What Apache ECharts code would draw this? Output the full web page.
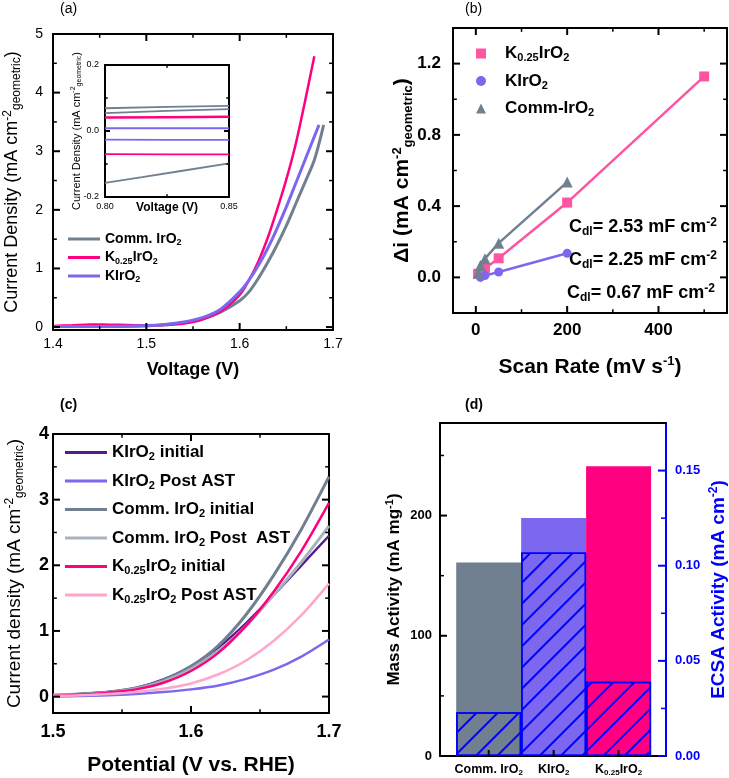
<!DOCTYPE html>
<html><head><meta charset="utf-8">
<script src="https://cdn.jsdelivr.net/npm/echarts@6/dist/echarts.min.js"></script>
<style>html,body{margin:0;padding:0;background:#fff}#c{width:729px;height:778px}</style>
</head><body><div id="c"></div>
<script>
// ---------- DATA ----------
// (a) polarization curves [V, mA cm-2]
const aCommIrO2 = [[1.40,0.01],[1.45,0.01],[1.50,0.02],[1.52,0.04],[1.54,0.07],[1.56,0.14],[1.58,0.26],[1.60,0.45],[1.61,0.6],[1.62,0.83],[1.63,1.1],[1.64,1.4],[1.65,1.73],[1.66,2.1],[1.67,2.47],[1.68,2.85],[1.69,3.45]];
const aK025IrO2 = [[1.40,0.02],[1.42,0.03],[1.44,0.045],[1.46,0.04],[1.48,0.035],[1.50,0.03],[1.52,0.035],[1.54,0.06],[1.56,0.13],[1.58,0.27],[1.60,0.55],[1.61,0.8],[1.62,1.12],[1.63,1.52],[1.64,2.0],[1.65,2.52],[1.66,3.12],[1.67,3.85],[1.68,4.62]];
const aKIrO2 = [[1.40,0.01],[1.45,0.01],[1.50,0.025],[1.52,0.045],[1.54,0.085],[1.56,0.16],[1.58,0.31],[1.60,0.6],[1.61,0.8],[1.62,1.05],[1.63,1.34],[1.64,1.68],[1.65,2.05],[1.66,2.45],[1.67,2.85],[1.68,3.25],[1.685,3.45]];
// (a) inset CV segments
const insetComm1 = [[0.80,0.069],[0.825,0.073],[0.85,0.076]];
const insetComm2 = [[0.80,0.054],[0.825,0.061],[0.85,0.066]];
const insetK025a = [[0.80,0.041],[0.825,0.042],[0.85,0.043]];
const insetKa = [[0.80,0.008],[0.825,0.008],[0.85,0.008]];
const insetKb = [[0.80,-0.026],[0.825,-0.027],[0.85,-0.027]];
const insetK025b = [[0.80,-0.07],[0.825,-0.071],[0.85,-0.071]];
const insetComm3 = [[0.80,-0.157],[0.815,-0.14],[0.83,-0.122],[0.85,-0.098]];
// (b) delta i vs scan rate
const bK025IrO2 = [[5,0.02],[20,0.05],[50,0.107],[200,0.42],[500,1.128]];
const bKIrO2 = [[10,0.0],[20,0.01],[50,0.03],[200,0.135]];
const bCommIrO2 = [[5,0.025],[10,0.067],[20,0.105],[50,0.192],[200,0.535]];
const bCdl = ['2.53','2.25','0.67'];
// (c) stability curves
const cPot = [1.50,1.52,1.54,1.56,1.58,1.60,1.62,1.64,1.66,1.68,1.70];
const cKIrO2Init = [0.02,0.04,0.07,0.13,0.26,0.46,0.75,1.12,1.55,2.0,2.45];
const cKIrO2Post = [0.0,0.01,0.02,0.04,0.07,0.11,0.17,0.27,0.41,0.61,0.87];
const cCommInit = [0.02,0.04,0.07,0.13,0.25,0.46,0.78,1.25,1.85,2.55,3.35];
const cCommPost = [0.02,0.03,0.06,0.12,0.23,0.42,0.7,1.08,1.55,2.05,2.6];
const cK025Init = [0.01,0.03,0.06,0.11,0.21,0.39,0.67,1.08,1.6,2.22,2.95];
const cK025Post = [0.01,0.02,0.04,0.07,0.12,0.2,0.34,0.55,0.85,1.24,1.72];
// (d) activities
const dCats = ['Comm. IrO2','KIrO2','K0.25IrO2'];
const dMass = [161,198,241];
const dEcsa = [0.023,0.107,0.039];
// tick values
const aXTicks = [1.4,1.5,1.6,1.7], aXMinor = [1.45,1.55,1.65];
const aYTicks = [0,1,2,3,4,5], aYMinor = [0.5,1.5,2.5,3.5,4.5];
const insXTicks = [0.80,0.85], insXMinor = [0.825];
const insYTicks = [-0.2,0,0.2], insYMinor = [-0.1,0.1];
const bXTicks = [0,200,400], bXMinor = [100,300,500];
const bYTicks = [0,0.4,0.8,1.2], bYMinor = [0.2,0.6,1.0];
const cXTicks = [1.5,1.6,1.7], cXMinor = [1.55,1.65];
const cYTicks = [0,1,2,3,4], cYMinor = [0.5,1.5,2.5,3.5];
const dXTicks = [1,2,3];
const dYLTicks = [0,100,200], dYLMinor = [50,150,250];
const dYRTicks = [0,0.05,0.10,0.15], dYRMinor = [0.025,0.075,0.125];

// ---------- STYLE ----------
const FF = "'Liberation Sans', Arial, sans-serif";
const GRAY = '#708090', PINK = '#FF0080', PURP = '#7B68EE', BLUE = '#0000FF';
function rich(fs, w, color) {
  const s = Math.round(fs * 0.64);
  return {
    n: {fontSize: fs, fontWeight: w, color, fontFamily: FF},
    s: {fontSize: s, fontWeight: w, color, fontFamily: FF, padding: [Math.round(fs * 0.55), 0, 0, 0]},
    p: {fontSize: s, fontWeight: w, color, fontFamily: FF, padding: [0, 0, Math.round(fs * 0.5), 0]}
  };
}
const xAxes = [], yAxes = [];
function axisSet(list, grid, min, max, o) {
  const color = o.color || '#000';
  const idx = list.length;
  list.push({type: 'value', gridIndex: grid, min, max, splitLine: {show: false}, position: o.pos,
    axisLine: {show: true, onZero: false, lineStyle: {color, width: 2}},
    axisTick: {show: false},
    axisLabel: o.label ? Object.assign({show: true, customValues: o.labels, color, fontFamily: FF}, o.label) : {show: false},
    name: o.name || '', nameLocation: 'middle', nameGap: o.nameGap || 0, nameTextStyle: o.nameStyle || {}, nameMoveOverlap: false
  });
  if (o.opp) list.push({type: 'value', gridIndex: grid, min, max, splitLine: {show: false}, position: o.opp,
    axisLine: {show: true, onZero: false, lineStyle: {color: '#000', width: 2}}, axisTick: {show: false}, axisLabel: {show: false}});
  return idx;
}
const grids = [
  {left: 53, top: 34, width: 280, height: 296},
  {left: 105, top: 65, width: 124, height: 132},
  {left: 453, top: 28, width: 274, height: 285},
  {left: 53, top: 434, width: 276, height: 279},
  {left: 440, top: 423, width: 226, height: 333}
].map(g => Object.assign({outerBoundsMode: 'none'}, g));

// (a)
const aX = axisSet(xAxes, 0, 1.4, 1.7, {pos: 'bottom', opp: 'top', labels: aXTicks,
  label: {fontSize: 14, margin: 7, formatter: v => v.toFixed(1)},
  name: '{n|Voltage (V)}', nameGap: 31, nameStyle: {rich: rich(18, 'bold', '#000')}});
const aY = axisSet(yAxes, 0, -0.05, 5, {pos: 'left', opp: 'right', labels: aYTicks,
  label: {fontSize: 14, margin: 10, formatter: v => String(Math.round(v))},
  name: '{n|Current Density (mA cm}{p|-2}{s|geometric}{n|)}', nameGap: 30, nameStyle: {rich: rich(18, 'normal', '#000')}});
const iX = axisSet(xAxes, 1, 0.80, 0.85, {pos: 'bottom', opp: 'top', labels: insXTicks,
  label: {fontSize: 9, margin: 5, formatter: v => v.toFixed(2)},
  name: '{n|Voltage (V)}', nameGap: 5, nameStyle: {rich: rich(12, 'bold', '#000')}});
const iY = axisSet(yAxes, 1, -0.2, 0.2, {pos: 'left', opp: 'right', labels: insYTicks,
  label: {fontSize: 9, margin: 6, formatter: v => v.toFixed(1)},
  name: '{n|Current Density (mA cm}{p|-2}{s|geometric}{n|)}', nameGap: 22, nameStyle: {rich: rich(11, 'normal', '#000')}});
// (b)
const bX = axisSet(xAxes, 2, -50, 550, {pos: 'bottom', opp: 'top', labels: bXTicks,
  label: {fontSize: 17, fontWeight: 'bold', margin: 9, formatter: v => String(Math.round(v))},
  name: '{n|Scan Rate (mV s}{p|-1}{n|)}', nameGap: 42, nameStyle: {rich: rich(21, 'bold', '#000')}});
const bY = axisSet(yAxes, 2, -0.2, 1.4, {pos: 'left', opp: 'right', labels: bYTicks,
  label: {fontSize: 17, fontWeight: 'bold', margin: 12, formatter: v => v.toFixed(1)},
  name: '{n|Δi (mA cm}{p|-2}{s|geometric}{n|)}', nameGap: 38, nameStyle: {rich: rich(21, 'bold', '#000')}});
// (c)
const cX = axisSet(xAxes, 3, 1.5, 1.7, {pos: 'bottom', opp: 'top', labels: cXTicks,
  label: {fontSize: 18, fontWeight: 'bold', margin: 10, formatter: v => v.toFixed(1)},
  name: '{n|Potential (V vs. RHE)}', nameGap: 42, nameStyle: {rich: rich(21, 'bold', '#000')}});
const cY = axisSet(yAxes, 3, -0.25, 4, {pos: 'left', opp: 'right', labels: cYTicks,
  label: {fontSize: 18, fontWeight: 'bold', margin: 4, formatter: v => String(Math.round(v))},
  name: '{n|Current density (mA cm}{p|-2}{s|geometric}{n|)}', nameGap: 27, nameStyle: {rich: rich(19, 'normal', '#000')}});
// (d)
const dLabels = ['{n|Comm. IrO}{s|2}', '{n|KIrO}{s|2}', '{n|K}{s|0.25}{n|IrO}{s|2}'];
const dX = axisSet(xAxes, 4, 0.25, 3.73, {pos: 'bottom', opp: 'top', labels: dXTicks,
  label: {margin: 6, formatter: v => dLabels[Math.round(v) - 1], rich: rich(12.5, 'bold', '#000')}});
const dYL = axisSet(yAxes, 4, 0, 277, {pos: 'left', labels: dYLTicks,
  label: {fontSize: 13, fontWeight: 'bold', margin: 8, formatter: v => String(Math.round(v))},
  name: '{n|Mass Activity (mA mg}{p|-1}{n|)}', nameGap: 36, nameStyle: {rich: rich(17, 'bold', '#000')}});
const dYR = axisSet(yAxes, 4, 0, 0.175, {pos: 'right', color: BLUE, labels: dYRTicks,
  label: {fontSize: 13, fontWeight: 'bold', margin: 9, formatter: v => v.toFixed(2)},
  name: '{n|ECSA Activity (mA cm}{p|-2}{n|)}', nameGap: 42, nameStyle: {rich: rich(19, 'bold', BLUE)}});

// inward tick marks, placed through the axes' own scales (api.coord)
// item: [value, dir(0=x,1=y), length, width, sides(1=bottom/left, 2=top/right, 3=both)]
function tickItems(vals, dir, len, w, sides) { return vals.map(v => [v, dir, len, w, sides]); }
function tickSeries(xi, yi, xr, yr, items, color) {
  return {type: 'custom', xAxisIndex: xi, yAxisIndex: yi, silent: true, z: 20, clip: false, data: items,
    renderItem: (params, api) => {
      const v = api.value(0), dir = api.value(1), len = api.value(2), w = api.value(3), sides = api.value(4);
      const st = {stroke: color, lineWidth: w};
      const ch = [];
      if (dir === 0) {
        const b = api.coord([v, yr[0]]), t = api.coord([v, yr[1]]);
        if (sides & 1) ch.push({type: 'line', shape: {x1: b[0], y1: b[1], x2: b[0], y2: b[1] - len}, style: st});
        if (sides & 2) ch.push({type: 'line', shape: {x1: t[0], y1: t[1], x2: t[0], y2: t[1] + len}, style: st});
      } else {
        const l = api.coord([xr[0], v]), r = api.coord([xr[1], v]);
        if (sides & 1) ch.push({type: 'line', shape: {x1: l[0], y1: l[1], x2: l[0] + len, y2: l[1]}, style: st});
        if (sides & 2) ch.push({type: 'line', shape: {x1: r[0], y1: r[1], x2: r[0] - len, y2: r[1]}, style: st});
      }
      return {type: 'group', children: ch};
    }};
}
function frameTicks(xi, yi, xr, yr, xMaj, xMin, yMaj, yMin, len) {
  return tickSeries(xi, yi, xr, yr, [].concat(
    tickItems(xMaj, 0, len, 2, 3), tickItems(xMin, 0, len * 0.55, 1.5, 3),
    tickItems(yMaj, 1, len, 2, 3), tickItems(yMin, 1, len * 0.55, 1.5, 3)), '#000');
}

function line(name, xi, yi, data, color, width, extra) {
  return Object.assign({type: 'line', name, xAxisIndex: xi, yAxisIndex: yi, data, symbol: 'none', smooth: 0.3,
    lineStyle: {color, width}, itemStyle: {color}, z: 3, silent: true}, extra || {});
}
const series = [
  line('a_comm', aX, aY, aCommIrO2, GRAY, 3),
  line('a_k025', aX, aY, aK025IrO2, PINK, 2.5),
  line('a_k', aX, aY, aKIrO2, PURP, 3),
  line('i1', iX, iY, insetComm1, GRAY, 1.8, {smooth: false}),
  line('i2', iX, iY, insetComm2, GRAY, 1.8, {smooth: false}),
  line('i3', iX, iY, insetK025a, PINK, 2.5, {smooth: false}),
  line('i4', iX, iY, insetKa, PURP, 2, {smooth: false}),
  line('i5', iX, iY, insetKb, PURP, 1.8, {smooth: false}),
  line('i6', iX, iY, insetK025b, PINK, 1.8, {smooth: false}),
  line('i7', iX, iY, insetComm3, GRAY, 1.8, {smooth: false}),
  line('b_k025', bX, bY, bK025IrO2, '#FF55A0', 2.5, {smooth: false, symbol: 'rect', symbolSize: 10}),
  line('b_k', bX, bY, bKIrO2, PURP, 2.5, {smooth: false, symbol: 'circle', symbolSize: 9}),
  line('b_comm', bX, bY, bCommIrO2, GRAY, 2.5, {smooth: false, symbol: 'triangle', symbolSize: 11}),
  line('c1', cX, cY, cPot.map((x, i) => [x, cKIrO2Init[i]]), '#551A8B', 2.5),
  line('c2', cX, cY, cPot.map((x, i) => [x, cKIrO2Post[i]]), PURP, 2.5),
  line('c3', cX, cY, cPot.map((x, i) => [x, cCommInit[i]]), GRAY, 3),
  line('c4', cX, cY, cPot.map((x, i) => [x, cCommPost[i]]), '#A7B3BD', 3),
  line('c5', cX, cY, cPot.map((x, i) => [x, cK025Init[i]]), PINK, 2.5),
  line('c6', cX, cY, cPot.map((x, i) => [x, cK025Post[i]]), '#FFA6CC', 2.5),
  {type: 'bar', name: 'mass', xAxisIndex: dX, yAxisIndex: dYL, barWidth: 65, barGap: '-100%', z: 2, silent: true,
    data: dMass.map((v, i) => ({value: [i + 1, v], itemStyle: {color: [GRAY, PURP, PINK][i]}}))},
  {type: 'bar', name: 'ecsa', xAxisIndex: dX, yAxisIndex: dYR, barWidth: 65, barGap: '-100%', z: 3, silent: true,
    data: dEcsa.map((v, i) => ({value: [i + 1, v], itemStyle: {color: [GRAY, PURP, PINK][i], borderColor: BLUE, borderWidth: 1.5,
      decal: {symbol: 'rect', symbolSize: 1, color: BLUE, dashArrayX: [1, 0], dashArrayY: [2, 13], rotation: -Math.PI / 4}}}))},
  frameTicks(aX, aY, [1.4, 1.7], [-0.05, 5], aXTicks, aXMinor, aYTicks, aYMinor, 7),
  frameTicks(iX, iY, [0.80, 0.85], [-0.2, 0.2], insXTicks, insXMinor, insYTicks, insYMinor, 5),
  frameTicks(bX, bY, [-50, 550], [-0.2, 1.4], bXTicks, bXMinor, bYTicks, bYMinor, 7),
  frameTicks(cX, cY, [1.5, 1.7], [-0.25, 4], cXTicks, cXMinor, cYTicks, cYMinor, 7),
  tickSeries(dX, dYL, [0.25, 3.73], [0, 277], [].concat(tickItems(dXTicks, 0, 6, 2, 1),
    tickItems(dYLTicks, 1, 7, 2, 1), tickItems(dYLMinor, 1, 4, 1.5, 1)), '#000'),
  tickSeries(dX, dYR, [0.25, 3.73], [0, 0.175], [].concat(tickItems(dYRTicks, 1, 8, 2, 2), tickItems(dYRMinor, 1, 5, 1.5, 2)), BLUE)
];
const disp = {
  a_comm: '{n|Comm. IrO}{s|2}', a_k025: '{n|K}{s|0.25}{n|IrO}{s|2}', a_k: '{n|KIrO}{s|2}',
  b_k025: '{n|K}{s|0.25}{n|IrO}{s|2}', b_k: '{n|KIrO}{s|2}', b_comm: '{n|Comm-IrO}{s|2}',
  c1: '{n|KIrO}{s|2}{n| initial}', c2: '{n|KIrO}{s|2}{n| Post AST}', c3: '{n|Comm. IrO}{s|2}{n| initial}',
  c4: '{n|Comm. IrO}{s|2}{n| Post  AST}', c5: '{n|K}{s|0.25}{n|IrO}{s|2}{n| initial}', c6: '{n|K}{s|0.25}{n|IrO}{s|2}{n| Post AST}'
};
const legends = [
  {orient: 'vertical', left: 63, top: 227, itemWidth: 32, itemHeight: 3, itemGap: 3, selectedMode: false,
    data: ['a_comm', 'a_k025', 'a_k'].map(n => ({name: n, icon: 'rect'})), formatter: n => disp[n], textStyle: {rich: rich(14, 'bold', '#000')}},
  {orient: 'vertical', left: 471, top: 40, itemWidth: 10, itemHeight: 10, itemGap: 9, selectedMode: false,
    data: [{name: 'b_k025', icon: 'rect'}, {name: 'b_k', icon: 'circle'}, {name: 'b_comm', icon: 'triangle'}],
    formatter: n => disp[n], textStyle: {padding: [0, 0, 0, 14], rich: rich(17, 'bold', '#000')}},
  {orient: 'vertical', left: 60, top: 439, itemWidth: 42, itemHeight: 3, itemGap: 10, selectedMode: false,
    data: ['c1', 'c2', 'c3', 'c4', 'c5', 'c6'].map(n => ({name: n, icon: 'rect'})), formatter: n => disp[n], textStyle: {rich: rich(17, 'bold', '#000')}}
];
function cdlText(val, color, x, y) {
  return {type: 'text', x, y, silent: true, style: {text: '{n|C}{s|dl}{n|= ' + val + ' mF cm}{p|-2}', verticalAlign: 'middle', rich: rich(18, 'bold', color)}};
}
const graphics = [
  {type: 'text', x: 60, y: 9, style: {text: '(a)', fontSize: 14, fontFamily: FF, fill: '#000', verticalAlign: 'middle'}},
  {type: 'text', x: 465, y: 9, style: {text: '(b)', fontSize: 14, fontFamily: FF, fill: '#000', verticalAlign: 'middle'}},
  {type: 'text', x: 60, y: 405, style: {text: '(c)', fontSize: 14, fontWeight: 'bold', fontFamily: FF, fill: '#000', verticalAlign: 'middle'}},
  {type: 'text', x: 465, y: 405, style: {text: '(d)', fontSize: 14, fontWeight: 'bold', fontFamily: FF, fill: '#000', verticalAlign: 'middle'}},
  cdlText(bCdl[0], GRAY, 569, 227),
  cdlText(bCdl[1], '#FF55A0', 569, 260),
  cdlText(bCdl[2], PURP, 567, 293)
];
const chart = echarts.init(document.getElementById('c'), null, {renderer: 'canvas'});
chart.setOption({
  animation: false, backgroundColor: '#fff',
  textStyle: {fontFamily: FF},
  grid: grids, xAxis: xAxes, yAxis: yAxes, series, legend: legends, graphic: {elements: graphics}
});
</script>
</body></html>
